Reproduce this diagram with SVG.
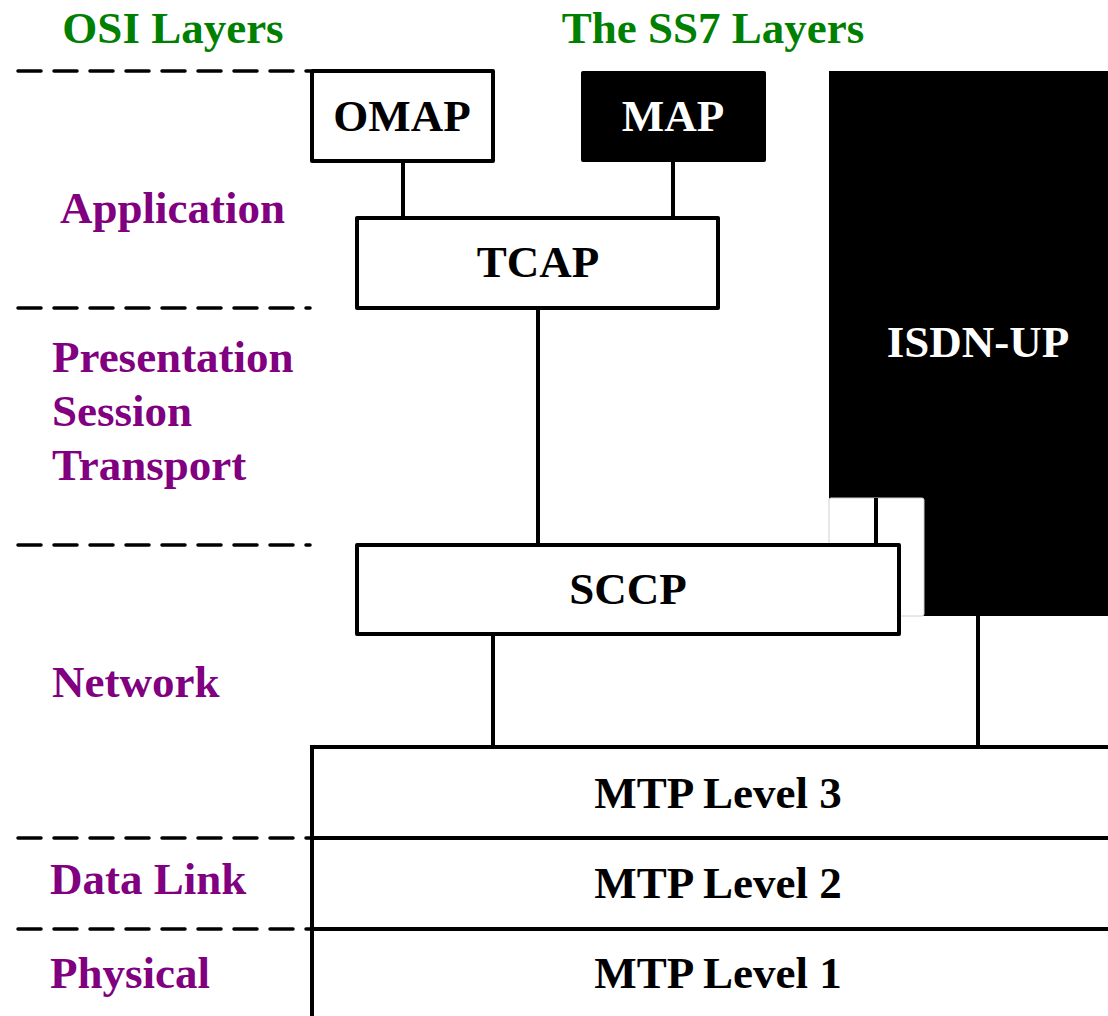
<svg xmlns="http://www.w3.org/2000/svg" width="1108" height="1016" viewBox="0 0 1108 1016">
<style>
text{font-family:"Liberation Serif","Times New Roman",serif;font-weight:bold;font-size:45px}
.g{fill:#008000}
.p{fill:#800080}
.c{text-anchor:middle}
.w{fill:#fff}
.k{fill:#000}
.box{fill:#fff;stroke:#000;stroke-width:4;stroke-linejoin:round}
.ln{stroke:#000;stroke-width:4;fill:none}
.dash{stroke:#000;stroke-width:3.5;stroke-dasharray:23 13;stroke-linecap:round;fill:none}
</style>
<rect width="1108" height="1016" fill="#fff"/>
<g id="osi-labels">
<text class="g c" x="173" y="43">OSI Layers</text>
<text class="g c" x="713" y="43">The SS7 Layers</text>
<text class="p" x="60" y="223">Application</text>
<text class="p" x="52" y="372">Presentation</text>
<text class="p" x="52" y="426">Session</text>
<text class="p" x="52" y="480">Transport</text>
<text class="p" x="52" y="697">Network</text>
<text class="p" x="50" y="894">Data Link</text>
<text class="p" x="50" y="988">Physical</text>
</g>
<g id="dividers">
<line class="dash" x1="18" y1="71" x2="310" y2="71"/>
<line class="dash" x1="18" y1="308" x2="310" y2="308"/>
<line class="dash" x1="18" y1="545" x2="310" y2="545"/>
<line class="dash" x1="18" y1="838" x2="310" y2="838"/>
<line class="dash" x1="18" y1="929" x2="310" y2="929"/>
</g>
<g id="isdn-up">
<rect x="829" y="71" width="279" height="545" fill="#000"/>
<rect x="829" y="498" width="95" height="118" rx="2" fill="#fff" stroke="#d0d0d0" stroke-width="1"/>
<text class="w c" x="978" y="357">ISDN-UP</text>
</g>
<g id="connectors">
<line class="ln" x1="403" y1="160" x2="403" y2="218"/>
<line class="ln" x1="673" y1="160" x2="673" y2="218"/>
<line class="ln" x1="538" y1="308" x2="538" y2="545"/>
<line class="ln" x1="876" y1="498" x2="876" y2="545"/>
<line class="ln" x1="493" y1="634" x2="493" y2="747"/>
<line class="ln" x1="978" y1="616" x2="978" y2="747"/>
</g>
<g id="omap">
<rect class="box" x="312" y="71" width="181" height="90"/>
<text class="k c" x="402" y="131">OMAP</text>
</g>
<g id="map">
<rect x="581" y="71" width="185" height="91" rx="2" fill="#000"/>
<text class="w c" x="673" y="131">MAP</text>
</g>
<g id="tcap">
<rect class="box" x="357" y="218" width="361" height="90"/>
<text class="k c" x="538" y="277">TCAP</text>
</g>
<g id="sccp">
<rect class="box" x="357" y="545" width="542" height="89"/>
<text class="k c" x="628" y="604">SCCP</text>
</g>
<g id="mtp">
<line class="ln" x1="312" y1="747" x2="312" y2="1016"/>
<line class="ln" x1="310" y1="747" x2="1108" y2="747"/>
<line class="ln" x1="310" y1="838" x2="1108" y2="838"/>
<line class="ln" x1="310" y1="929" x2="1108" y2="929"/>
<text class="k c" x="718" y="808">MTP Level 3</text>
<text class="k c" x="718" y="898">MTP Level 2</text>
<text class="k c" x="718" y="988">MTP Level 1</text>
</g>
</svg>
